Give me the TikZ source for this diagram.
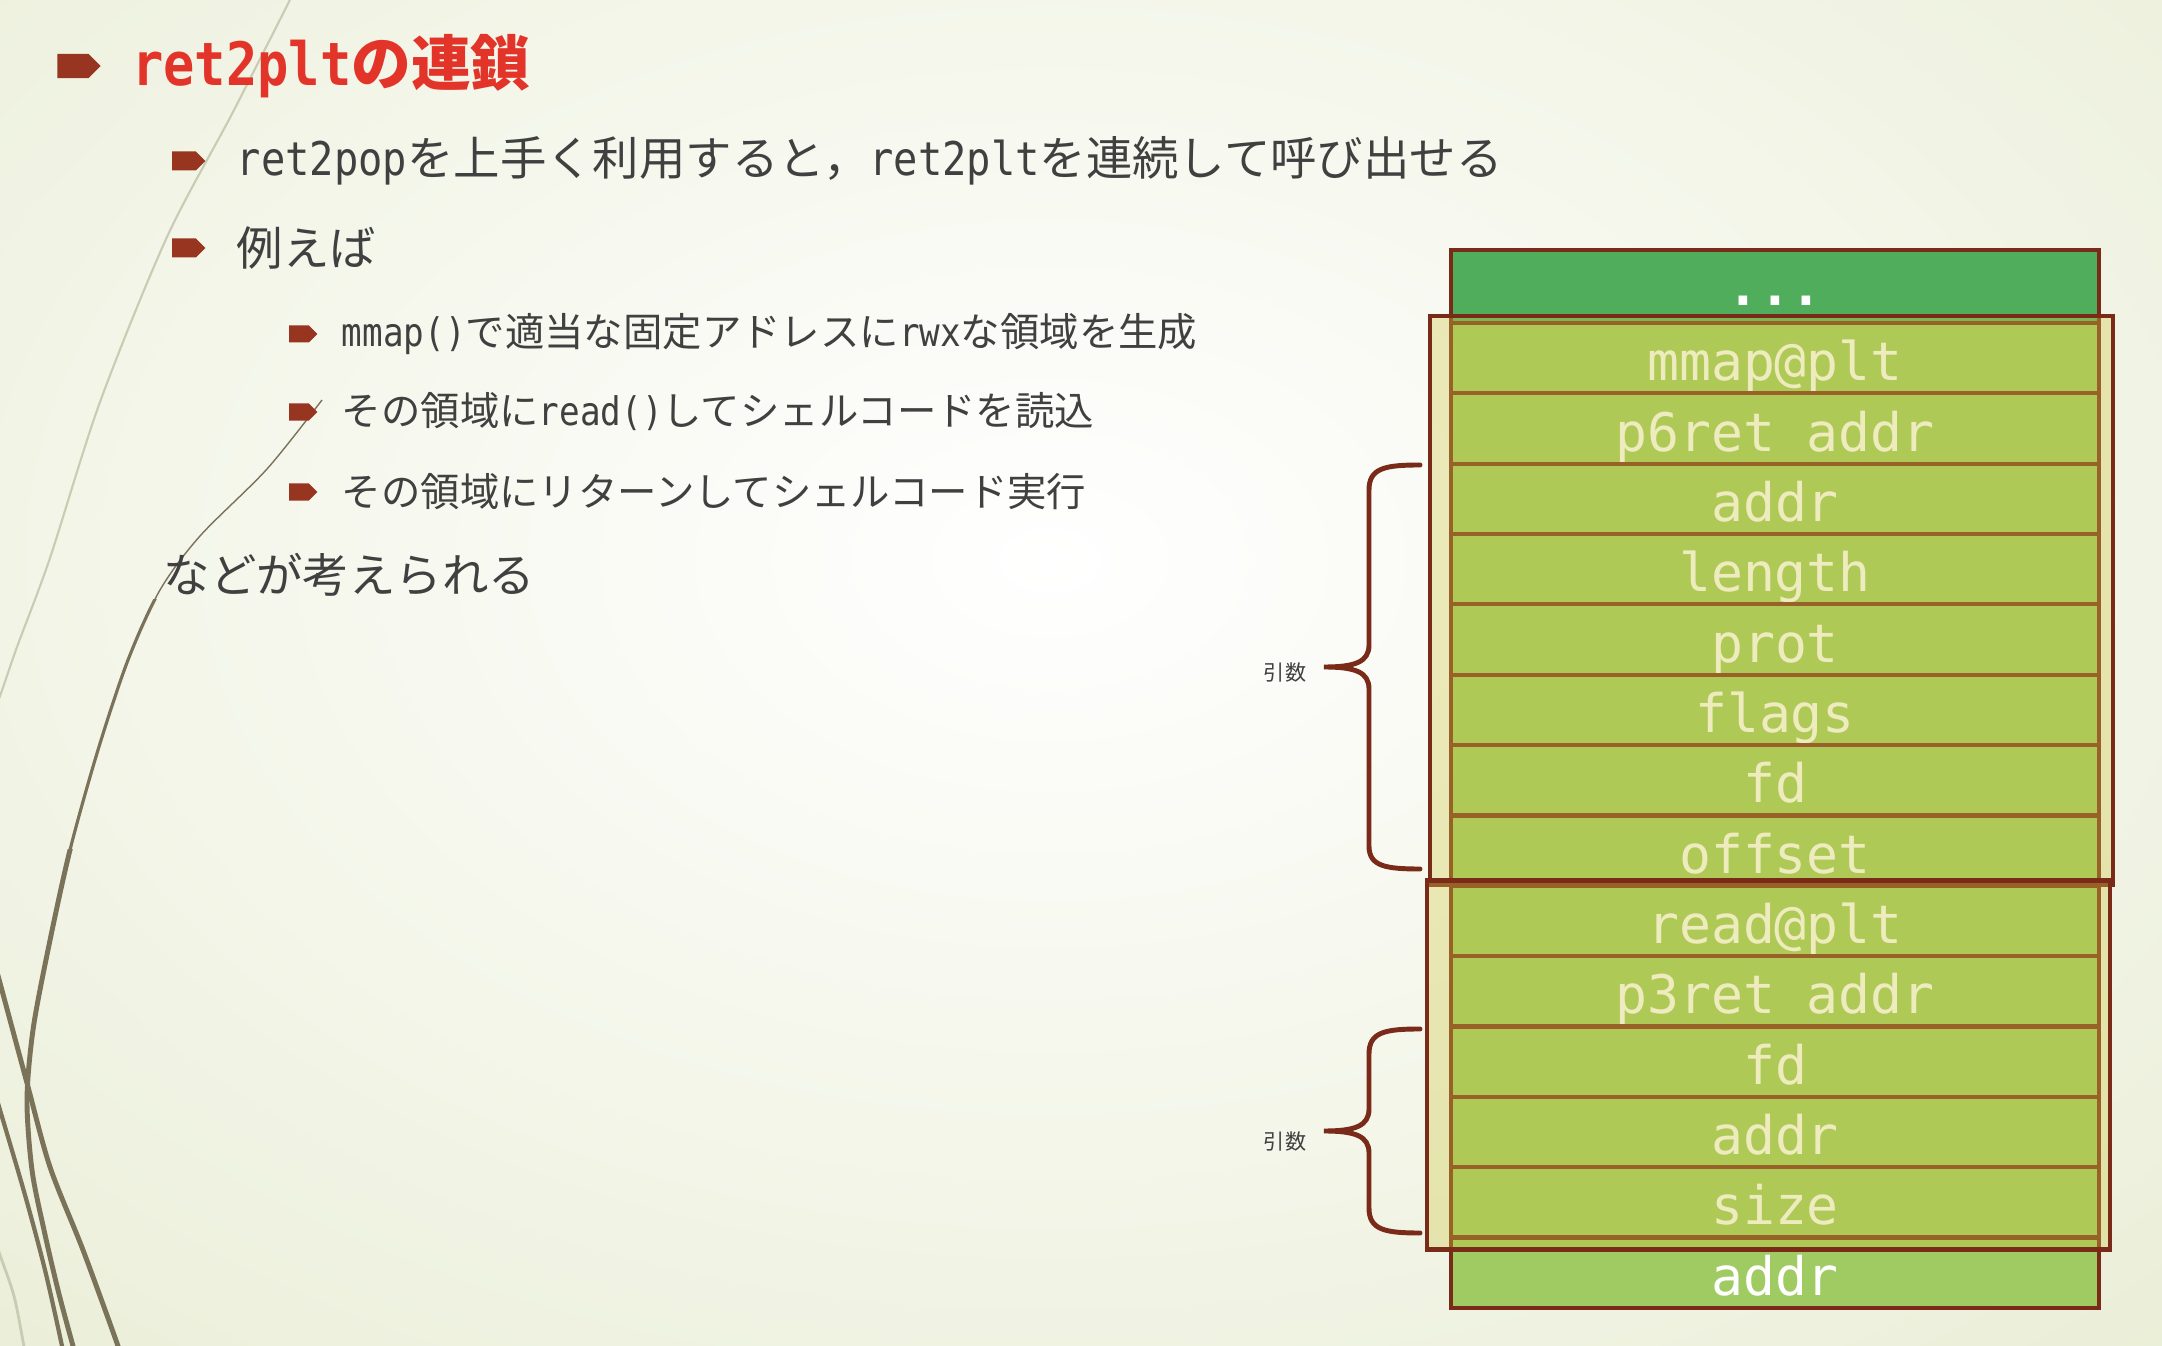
\documentclass[tikz,border=0pt]{standalone}
\usepackage{fontspec}
\setmainfont{Noto Sans CJK JP}
\newfontfamily\latfont{DejaVu Sans Mono}[FakeStretch=0.87]
\newfontfamily\stackfont{DejaVu Sans Mono}
\usetikzlibrary{positioning,shapes.symbols}
\definecolor{ink}{HTML}{404040}
\definecolor{ttlred}{HTML}{E3342A}
\definecolor{bulred}{HTML}{983520}
\definecolor{darkred}{HTML}{7A2A18}
\definecolor{cellgreen}{HTML}{9FCB62}
\definecolor{topgreen}{HTML}{4FAD5B}
\definecolor{veil}{HTML}{CFC845}
\definecolor{bgg}{HTML}{E2E8C8}
\definecolor{swirl}{HTML}{7A7259}
\definecolor{swirlfaint}{HTML}{C9CCB2}
\newcommand\lat[1]{{\latfont #1}}
\tikzset{
  bul/.style={signal,signal to=east,fill=bulred,inner sep=0pt,outer sep=0pt},
  bul0/.style={bul,minimum width=0.43cm,minimum height=0.24cm},
  bul1/.style={bul,minimum width=0.33cm,minimum height=0.19cm},
  bul2/.style={bul,minimum width=0.28cm,minimum height=0.17cm},
  ttl/.style={inner sep=0pt,text=ttlred,font=\bfseries\fontsize{17pt}{20pt}\selectfont},
  lv1/.style={inner sep=0pt,text=ink,font=\fontsize{13.2pt}{16pt}\selectfont},
  lv2/.style={inner sep=0pt,text=ink,font=\fontsize{11.2pt}{14pt}\selectfont},
  cell/.style={draw=darkred,line width=1.2pt,fill=cellgreen,text=white,minimum width=6.48cm,
    minimum height=0.703cm,inner sep=0pt,outer sep=0pt,text height=0.45cm,text depth=0pt,
    font=\stackfont\fontsize{15.1pt}{18pt}\selectfont},
  dotbox/.style={cell,fill=topgreen,minimum height=0.73cm,text height=0.38cm,text depth=0pt,
    font=\stackfont\bfseries\fontsize{15pt}{18pt}\selectfont},
  frame/.style={draw=darkred,line width=1.3pt,fill=veil,fill opacity=0.35},
  brc/.style={draw=darkred,line width=1.4pt,line cap=round},
  argtxt/.style={inner sep=0pt,text=ink,font=\fontsize{6pt}{7pt}\selectfont},
}
\begin{document}
\begin{tikzpicture}[x=0.01cm,y=-0.01cm]
  \useasboundingbox (0,0) rectangle (2162,1346);
  % background and swirls
  \begin{scope}
    \clip (0,0) rectangle (2162,1346);
    \fill[bgg] (0,0) rectangle (2162,1346);
    \shade[inner color=white,outer color=bgg] (1050,560) ellipse (2300 and 1500);
    \draw[swirlfaint,line width=0.6pt] plot[smooth] coordinates {(300,-20) (233,112) (167,237) (100,402) (50,558) (17,647) (0,696) (-10,720)};
    \draw[swirl,line width=0.4pt] plot[smooth] coordinates {(322,400) (267,469) (200,536) (160,590) (128,660) (98,750) (70,850) (48,950) (33,1030) (27,1100) (32,1170) (44,1230) (58,1290) (73,1346) (80,1370)};
    \begin{scope}
      \clip (0,600) rectangle (300,1400);
      \draw[swirl,line width=0.9pt] plot[smooth] coordinates {(322,400) (267,469) (200,536) (160,590) (128,660) (98,750) (70,850) (48,950) (33,1030) (27,1100) (32,1170) (44,1230) (58,1290) (73,1346) (80,1370)};
    \end{scope}
    \begin{scope}
      \clip (0,850) rectangle (300,1400);
      \draw[swirl,line width=1.4pt] plot[smooth] coordinates {(322,400) (267,469) (200,536) (160,590) (128,660) (98,750) (70,850) (48,950) (33,1030) (27,1100) (32,1170) (44,1230) (58,1290) (73,1346) (80,1370)};
    \end{scope}
    \draw[swirl,line width=1.4pt] plot[smooth] coordinates {(-5,965) (0,983) (27,1083) (50,1167) (83,1250) (118,1346) (125,1370)};
    \draw[swirl,line width=1.2pt] plot[smooth] coordinates {(-5,1093) (0,1110) (25,1195) (45,1270) (62,1346) (66,1370)};
    \draw[swirlfaint,line width=0.8pt] plot[smooth] coordinates {(-5,1240) (0,1255) (15,1300) (28,1370)};
  \end{scope}

  % bullet text
  \node[bul0] (b0) at (73,66) {};
  \node[ttl,right=0.31cm of b0] (title) {\lat{ret2plt}の連鎖};
  \node[bul1] (b1) at (184,161) {};
  \node[lv1,right=0.31cm of b1] (t1) {\lat{ret2pop}を上手く利用すると，\lat{ret2plt}を連続して呼び出せる};
  \node[bul1] (b2) at (184,248) {};
  \node[lv1,right=0.31cm of b2] (t2) {例えば};
  \node[bul2] (b3) at (299,334) {};
  \node[lv2,right=0.24cm of b3] (t3) {\lat{mmap()}で適当な固定アドレスに\lat{rwx}な領域を生成};
  \node[bul2] (b4) at (299,412) {};
  \node[lv2,right=0.24cm of b4] (t4) {その領域に\lat{read()}してシェルコードを読込};
  \node[bul2] (b5) at (299,492) {};
  \node[lv2,right=0.24cm of b5] (t5) {その領域にリターンしてシェルコード実行};
  \node[lv1,anchor=west] (note) at (163,575) {などが考えられる};

  % stack
  \node[dotbox] (dots) at (1775,286.5) {...};
  \node[cell,below=0pt of dots] (r1) {mmap@plt};
  \node[cell,below=0pt of r1] (r2) {p6ret addr};
  \node[cell,below=0pt of r2] (r3) {addr};
  \node[cell,below=0pt of r3] (r4) {length};
  \node[cell,below=0pt of r4] (r5) {prot};
  \node[cell,below=0pt of r5] (r6) {flags};
  \node[cell,below=0pt of r6] (r7) {fd};
  \node[cell,below=0pt of r7] (r8) {offset};
  \node[cell,below=0pt of r8] (r9) {read@plt};
  \node[cell,below=0pt of r9] (r10) {p3ret addr};
  \node[cell,below=0pt of r10] (r11) {fd};
  \node[cell,below=0pt of r11] (r12) {addr};
  \node[cell,below=0pt of r12] (r13) {size};
  \node[cell,below=0pt of r13] (r14) {addr};
  \draw[frame] ([shift={(-21,-7)}]r1.north west) rectangle ([shift={(14,-1)}]r8.south east);
  \draw[frame] ([shift={(-24,-5)}]r9.north west) rectangle ([shift={(11,12)}]r13.south east);

  % braces
  \draw[brc] (1420,465) .. controls (1385,465) and (1369,468) .. (1369,490) -- (1369,645)
    .. controls (1369,662) and (1355,667) .. (1324,667)
    .. controls (1355,667) and (1369,672) .. (1369,689) -- (1369,846)
    .. controls (1369,866) and (1385,869) .. (1420,869);
  \draw[brc] (1420,1029) .. controls (1385,1029) and (1369,1032) .. (1369,1054) -- (1369,1109)
    .. controls (1369,1126) and (1355,1131) .. (1324,1131)
    .. controls (1355,1131) and (1369,1136) .. (1369,1153) -- (1369,1208)
    .. controls (1369,1230) and (1385,1233) .. (1420,1233);
  \node[argtxt] (arg1) at (1285,673) {引数};
  \node[argtxt] (arg2) at (1285,1142) {引数};
\end{tikzpicture}
\end{document}
